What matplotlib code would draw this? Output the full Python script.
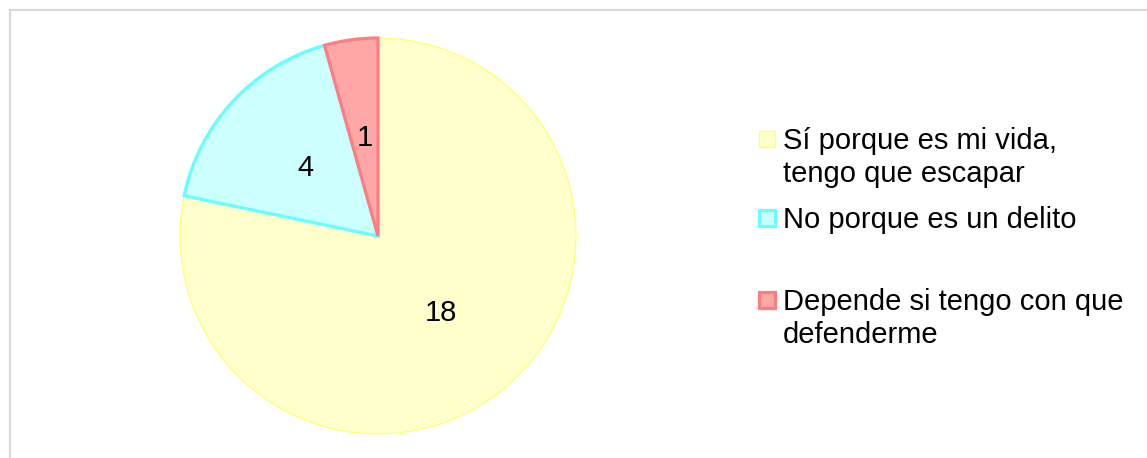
import matplotlib
matplotlib.use("Agg")
import matplotlib.pyplot as plt
from matplotlib.lines import Line2D
from matplotlib.patches import Rectangle

plt.rcParams["font.family"] = ["Liberation Sans", "DejaVu Sans"]

# data
labels = ["Sí porque es mi vida,\ntengo que escapar",
          "No porque es un delito",
          "Depende si tengo con que\ndefenderme"]
values = [18, 4, 1]
fills = ["#FFFFCC", "#CCFFFF", "#FFA6A6"]
edges = ["#FFFF66", "#66FFFF", "#FF7C80"]
edge_widths = [0.8, 2.3, 2.3]

W, H = 1147, 458
fig = plt.figure(figsize=(W / 100, H / 100), dpi=100)

# pie axes: centre (378, 236) px from top-left, radius 198 px
cx, cy, r = 378, 236, 198
ax = fig.add_axes([(cx - r) / W, (H - cy - r) / H, 2 * r / W, 2 * r / H])
total = sum(values)
wedges, texts, autotexts = ax.pie(
    values, colors=fills, startangle=90, counterclock=False,
    autopct=lambda p: f"{round(p * total / 100)}", pctdistance=0.5,
    textprops=dict(fontsize=21, color="black"),
)
for w, ec, lw in zip(wedges, edges, edge_widths):
    w.set_edgecolor(ec)
    w.set_linewidth(lw)
    w.set_joinstyle("miter")
ax.set_xlim(-1, 1)
ax.set_ylim(-1, 1)
ax.set_aspect("equal")
ax.axis("off")

# legend drawn by hand (Excel-like uneven spacing)
baselines = [149, 228, 310]
line_step = 32.7
sq = 16
for lab, fc, ec, lw, yb in zip(labels, fills, edges, edge_widths, baselines):
    fig.add_artist(Rectangle((759 / W, (H - yb + 2) / H), sq / W, sq / H,
                             transform=fig.transFigure, facecolor=fc,
                             edgecolor=ec, linewidth=max(lw, 1.0)))
    for i, line in enumerate(lab.split("\n")):
        fig.text(783 / W, (H - yb - i * line_step) / H, line, fontsize=21,
                 va="baseline", ha="left", color="black")

# chart area border (top and left edges visible)
bc = "#D9D9D9"
fig.add_artist(Line2D([9.5 / W, 1.0], [1 - 9.5 / H, 1 - 9.5 / H],
                      transform=fig.transFigure, color=bc, linewidth=1.5))
fig.add_artist(Line2D([9.5 / W, 9.5 / W], [0.0, 1 - 9.5 / H],
                      transform=fig.transFigure, color=bc, linewidth=1.5))

fig.savefig("out.png", dpi=100)
